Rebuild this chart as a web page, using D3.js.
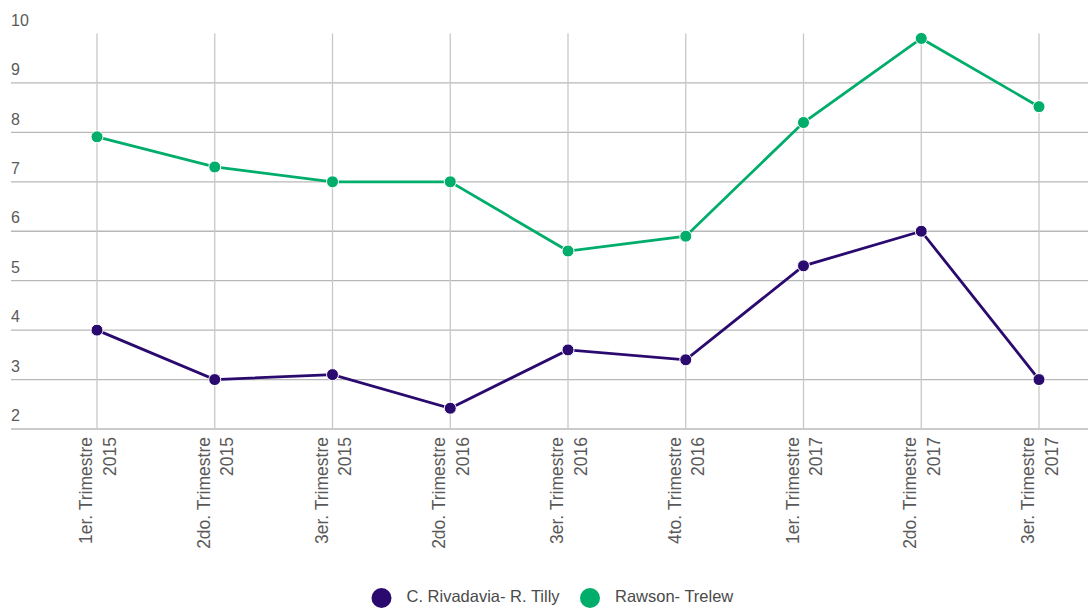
<!DOCTYPE html>
<html><head><meta charset="utf-8">
<script src="https://cdn.jsdelivr.net/npm/d3@7"></script>
<style>body{margin:0;background:#fff;} svg{display:block;}</style>
</head><body>
<svg id="c" width="1088" height="608"></svg>
<script>
const categories = [
  ["1er. Trimestre","2015"],["2do. Trimestre","2015"],["3er. Trimestre","2015"],
  ["2do. Trimestre","2016"],["3er. Trimestre","2016"],["4to. Trimestre","2016"],
  ["1er. Trimestre","2017"],["2do. Trimestre","2017"],["3er. Trimestre","2017"]
];
const rivadavia = [4.0, 3.0, 3.1, 2.42, 3.6, 3.4, 5.3, 6.0, 3.0];
const rawson = [7.91, 7.3, 7.0, 7.0, 5.6, 5.9, 8.2, 9.9, 8.52];
const yTicks = [2,3,4,5,6,7,8,9,10];
const seriesNames = ["C. Rivadavia- R. Tilly","Rawson- Trelew"];
const colors = ["#2a0a6e","#00ad6a"];

const svg = d3.select("#c");
const font = "'Liberation Sans', Arial, sans-serif";
const idx = categories.map((d,i)=>i);
const x = d3.scalePoint().domain(idx).range([97,1039]);
const y = d3.scaleLinear().domain([2,10]).range([429,33.5]);

// horizontal grid
svg.append("g").selectAll("line").data(yTicks.filter(t=>t<10)).join("line")
  .attr("x1",11).attr("x2",1088).attr("y1",d=>y(d)).attr("y2",d=>y(d))
  .attr("stroke","#b8b8b8").attr("stroke-width",1.3);
// vertical grid
svg.append("g").selectAll("line").data(idx).join("line")
  .attr("x1",d=>x(d)).attr("x2",d=>x(d)).attr("y1",y(10)).attr("y2",y(2))
  .attr("stroke","#c8c8c8").attr("stroke-width",1.3);
// y labels
svg.append("g").selectAll("text").data(yTicks).join("text")
  .attr("x",11).attr("y",d=>y(d)-12).attr("dominant-baseline","middle")
  .attr("font-family",font).attr("font-size",16).attr("fill","#5a5a5a")
  .text(d=>d);
// x labels
const xl = svg.append("g").selectAll("text").data(idx).join("text")
  .attr("transform",d=>`translate(${x(d)},437) rotate(-90)`)
  .attr("text-anchor","end").attr("font-family",font).attr("font-size",17.5).attr("fill","#5a5a5a");
xl.append("tspan").attr("x",0).attr("y",-5).text(d=>categories[d][0]);
xl.append("tspan").attr("x",0).attr("y",18.5).text(d=>categories[d][1]);

// lines
const line = d3.line().x((d,i)=>x(i)).y(d=>y(d));
[rivadavia, rawson].forEach((s,k)=>{
  svg.append("path").datum(s).attr("d",line).attr("fill","none")
    .attr("stroke",colors[k]).attr("stroke-width",2.8);
  svg.append("g").selectAll("circle").data(s).join("circle")
    .attr("cx",(d,i)=>x(i)).attr("cy",d=>y(d)).attr("r",6)
    .attr("fill",colors[k]).attr("stroke","#fff").attr("stroke-width",1);
});

// legend
const legendX = [381.5, 590];
seriesNames.forEach((n,k)=>{
  svg.append("circle").attr("cx",legendX[k]).attr("cy",598).attr("r",10).attr("fill",colors[k]);
  svg.append("text").attr("x",legendX[k]+25).attr("y",598).attr("dominant-baseline","middle")
    .attr("font-family",font).attr("font-size",16.5).attr("fill","#4a4a4a").text(n);
});
</script>
</body></html>
